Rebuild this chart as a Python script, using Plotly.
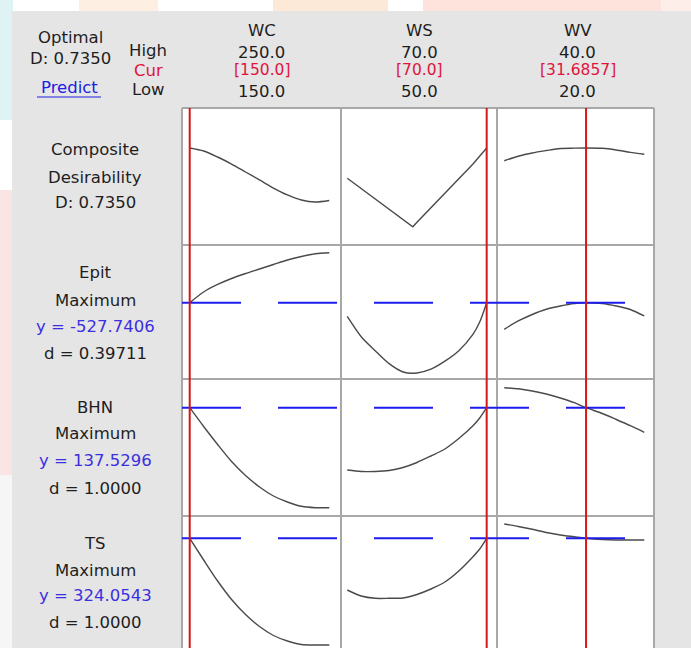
import plotly.graph_objects as go

W, H = 691, 648
def px(x): return x / W
def py(y): return 1 - y / H

# ---------------- data ----------------
factors = ["WC", "WS", "WV"]
high_labels = ["250.0", "70.0", "40.0"]
cur_labels = ["[150.0]", "[70.0]", "[31.6857]"]
low_labels = ["150.0", "50.0", "20.0"]
cur_values = [150.0, 70.0, 31.6857]

wc_x = [150, 160, 170, 180, 190, 200, 210, 220, 230, 240, 250]
ws_x = [50, 52, 54, 56, 58, 60, 62, 64, 66, 68, 69, 70]
ws_x_d = [50, 52, 54, 56, 58, 59.4, 60, 62, 64, 66, 68, 70]
wv_x = [20, 22, 24, 26, 28, 30, 31.6857, 34, 36, 38, 40]

# Composite desirability
d_wc = [0.735, 0.715, 0.675, 0.628, 0.575, 0.522, 0.468, 0.422, 0.388, 0.375, 0.385]
d_ws = [0.533, 0.464, 0.396, 0.327, 0.258, 0.210, 0.240, 0.337, 0.434, 0.530, 0.627, 0.735]
d_wv = [0.650, 0.680, 0.702, 0.718, 0.732, 0.734, 0.735, 0.733, 0.722, 0.706, 0.693]

# Epit
epit_wc = [-527.74, -506.3, -491.3, -479.3, -469.3, -460.3, -451.3, -442.3, -435.3, -429.9, -427.7]
epit_ws = [-555.1, -595.7, -623.7, -649.7, -666.3, -668.3, -660.7, -644.7, -623.7, -591.7, -566.3, -527.74]
epit_wv = [-580.9, -564.3, -551.3, -540.9, -534.3, -529.3, -527.74, -529.3, -534.3, -541.3, -554.3]

# BHN
bhn_wc = [137.53, 135.65, 133.85, 132.15, 130.75, 129.6, 128.7, 128.1, 127.67, 127.53, 127.53]
bhn_ws = [131.3, 131.15, 131.15, 131.25, 131.55, 132.05, 132.7, 133.4, 134.45, 135.7, 136.5, 137.53]
bhn_wv = [139.53, 139.42, 139.2, 138.9, 138.5, 138.03, 137.53, 136.95, 136.35, 135.73, 135.07]

# TS
ts_wc = [324.05, 313.2, 302.7, 293.45, 285.95, 279.95, 275.45, 272.7, 270.95, 270.7, 270.7]
ts_ws = [298.2, 295.2, 294.05, 294.05, 294.2, 295.95, 298.7, 302.2, 307.7, 314.7, 318.7, 324.05]
ts_wv = [331.2, 329.95, 328.55, 326.95, 325.7, 324.8, 324.05, 323.45, 323.2, 323.2, 323.2]

row_names = [["Composite", "Desirability", "D: 0.7350"],
             ["Epit", "Maximum", "y = -527.7406", "d = 0.39711"],
             ["BHN", "Maximum", "y = 137.5296", "d = 1.0000"],
             ["TS", "Maximum", "y = 324.0543", "d = 1.0000"]]
y_current = [None, -527.7406, 137.5296, 324.0543]

curves = [
    [(wc_x, d_wc, "spline"), (ws_x_d, d_ws, "linear"), (wv_x, d_wv, "spline")],
    [(wc_x, epit_wc, "spline"), (ws_x, epit_ws, "spline"), (wv_x, epit_wv, "spline")],
    [(wc_x, bhn_wc, "spline"), (ws_x, bhn_ws, "spline"), (wv_x, bhn_wv, "spline")],
    [(wc_x, ts_wc, "spline"), (ws_x, ts_ws, "spline"), (wv_x, ts_wv, "spline")],
]

# ---------------- layout geometry ----------------
col_px = [(182, 341), (341, 497), (497, 654)]
row_px = [(108, 245), (245, 379), (379, 516), (516, 648)]
x_ranges = [[144.48, 258.38], [49.1, 71.48], [18.96, 41.39]]
y_ranges = [[0.0883, 1.0017], [-680.34, -412.34], [126.7, 140.4], [269.2, 335.2]]

FONT = "DejaVu Sans"
FS = 16.5
TXT = "#1e1e1e"
BLUE_TXT = "#3b30e0"
RED_TXT = "#e0143c"

fig = go.Figure()

for r in range(4):
    for c in range(3):
        xs, ys, shp = curves[r][c]
        fig.add_trace(go.Scatter(
            x=xs, y=ys, mode="lines",
            line=dict(color="#4a4a4a", width=1.4, shape=shp, smoothing=0.8),
            xaxis="x" + ("" if c == 0 else str(c + 1)),
            yaxis="y" + ("" if r == 0 else str(r + 1)),
            hoverinfo="skip", showlegend=False))

layout = dict(
    width=W, height=H, margin=dict(l=0, r=0, t=0, b=0),
    paper_bgcolor="#e5e5e5", plot_bgcolor="rgba(0,0,0,0)",
    showlegend=False,
)
for c in range(3):
    key = "xaxis" + ("" if c == 0 else str(c + 1))
    layout[key] = dict(domain=[px(col_px[c][0]), px(col_px[c][1])], range=x_ranges[c],
                       visible=False, fixedrange=True,
                       anchor="y")
for r in range(4):
    key = "yaxis" + ("" if r == 0 else str(r + 1))
    layout[key] = dict(domain=[py(row_px[r][1]), py(row_px[r][0])], range=y_ranges[r],
                       visible=False, fixedrange=True, anchor="x")
fig.update_layout(**layout)

shapes = []
# watermark background strips
def rect(x0, y0, x1, y1, color):
    shapes.append(dict(type="rect", xref="paper", yref="paper",
                       x0=px(x0), x1=px(x1), y0=py(y1), y1=py(y0),
                       fillcolor=color, line=dict(width=0), layer="below"))
rect(0, 0, 691, 11, "#ffffff")
rect(0, 0, 12, 648, "#f6f6f6")
rect(0, 0, 13, 11, "#ddf3f5")
rect(0, 0, 12, 120, "#dff3f5")
rect(0, 120, 12, 190, "#ffffff")
rect(0, 190, 12, 475, "#fbe4e4")
rect(79, 0, 158, 11, "#fdf0e2")
rect(273, 0, 388, 11, "#fce9d8")
rect(423, 0, 661, 11, "#fde3dc")
rect(661, 0, 691, 11, "#fdeee9")
# white grid area
rect(182, 108, 654, 648, "#ffffff")

# borders
BORDER = "#a8a8a8"
for xb in [182, 341, 497, 654]:
    shapes.append(dict(type="line", xref="paper", yref="paper",
                       x0=px(xb), x1=px(xb), y0=py(108), y1=0,
                       line=dict(color=BORDER, width=2), layer="above"))
for yb in [108, 245, 379, 516]:
    shapes.append(dict(type="line", xref="paper", yref="paper",
                       x0=px(182), x1=px(654), y0=py(yb), y1=py(yb),
                       line=dict(color=BORDER, width=2), layer="above"))
# blue dashed current-response lines
for r in range(1, 4):
    shapes.append(dict(type="line", xref="paper", yref="y" + str(r + 1),
                       x0=px(182), x1=px(654), y0=y_current[r], y1=y_current[r],
                       line=dict(color="#1c1cf0", width=2, dash="59px,37px"), layer="above"))
# red current-setting lines
for c in range(3):
    shapes.append(dict(type="line", xref="x" + ("" if c == 0 else str(c + 1)), yref="paper",
                       x0=cur_values[c], x1=cur_values[c], y0=py(108), y1=0,
                       line=dict(color="#d41818", width=2), layer="above"))
# Predict underline
shapes.append(dict(type="line", xref="paper", yref="paper",
                   x0=px(37), x1=px(101), y0=py(97), y1=py(97),
                   line=dict(color="#2020e0", width=1.2)))
fig.update_layout(shapes=shapes)

ann = []
def text(x, y, s, color=TXT, size=FS):
    ann.append(dict(x=px(x), y=py(y), xref="paper", yref="paper", text=s,
                    showarrow=False, xanchor="center", yanchor="middle",
                    font=dict(family=FONT, size=size, color=color)))

text(70, 37, "Optimal")
text(70, 59, "D: 0.7350")
text(69, 88, "Predict", color="#2020e0")
text(148, 50, "High")
text(148, 70, "Cur", color=RED_TXT)
text(148, 89, "Low")
col_centers = [261.5, 419.5, 577.5]
for c in range(3):
    text(col_centers[c], 31, factors[c])
    text(col_centers[c], 52, high_labels[c])
    text(col_centers[c], 70, cur_labels[c], color=RED_TXT, size=15.5)
    text(col_centers[c], 92, low_labels[c])

row_text_y = [[149, 177, 203], [272, 300, 326, 353], [407, 433, 460, 488], [543, 570, 595, 622]]
for r in range(4):
    for i, s in enumerate(row_names[r]):
        color = BLUE_TXT if s.startswith("y =") else TXT
        text(95, row_text_y[r][i], s, color=color)

fig.update_layout(annotations=ann)
fig.write_html("out.html", config={"displayModeBar": False},
               post_script="document.body.style.margin='0';document.body.style.overflow='hidden';")
